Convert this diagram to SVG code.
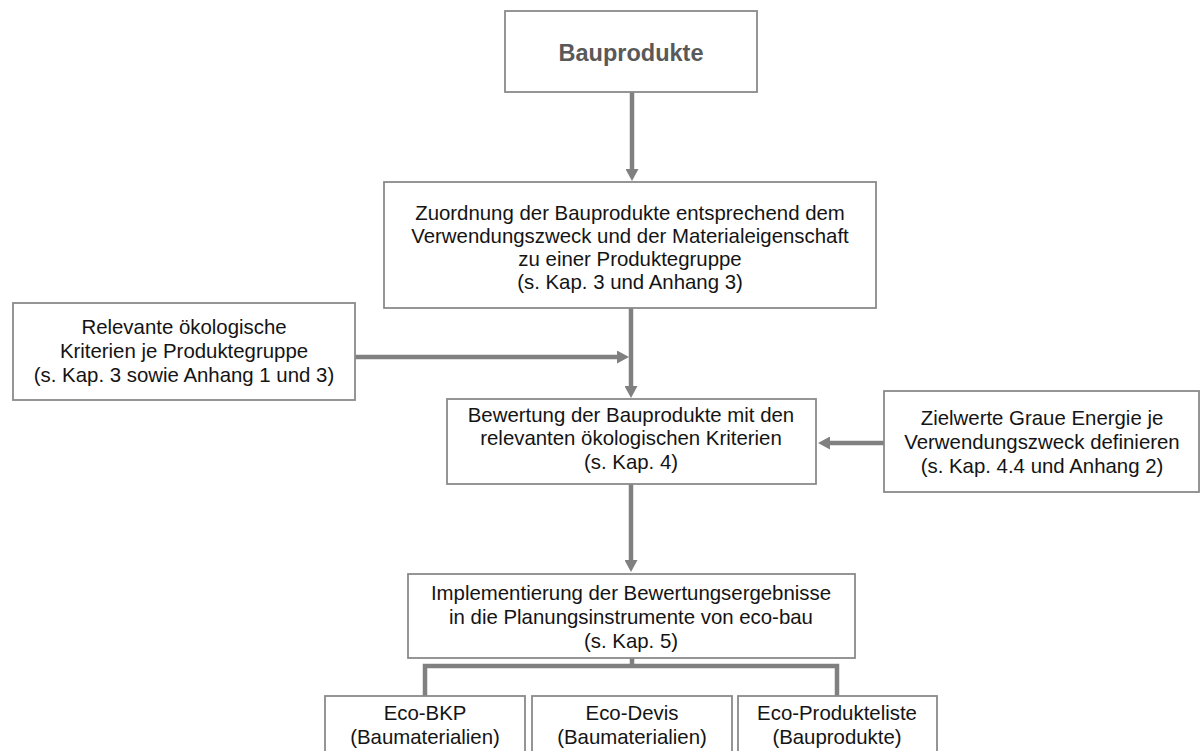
<svg xmlns="http://www.w3.org/2000/svg" width="1203" height="751" viewBox="0 0 1203 751">
<defs>
<style>
.box{fill:#fff;stroke:#8a8a8a;stroke-width:1.8}
.t{font-family:"Liberation Sans",Arial,sans-serif;font-size:20.4px;fill:#141414;text-anchor:middle}
.tb{font-family:"Liberation Sans",Arial,sans-serif;font-size:23.5px;font-weight:bold;fill:#595959;text-anchor:middle}
.c{fill:none;stroke:#808080;stroke-width:4.5}
</style>
<marker id="ah" viewBox="0 0 12 13" markerWidth="12" markerHeight="13" refX="0" refY="6.5" orient="auto" markerUnits="userSpaceOnUse">
<path d="M0,0 L12,6.5 L0,13 Z" fill="#808080"/>
</marker>
</defs>
<rect width="1203" height="751" fill="#fff"/>
<g id="connectors">
<line class="c" x1="632" y1="92" x2="632" y2="169" marker-end="url(#ah)"/>
<line class="c" x1="631" y1="308" x2="631" y2="386" marker-end="url(#ah)"/>
<line class="c" x1="355" y1="357" x2="617" y2="357" marker-end="url(#ah)"/>
<line class="c" x1="884" y1="443" x2="830" y2="443" marker-end="url(#ah)"/>
<line class="c" x1="631" y1="484" x2="631" y2="560" marker-end="url(#ah)"/>
<path class="c" d="M632,658 V666 M425,696 V666 H837 V696"/>
</g>
<g id="n-bauprodukte">
<rect class="box" x="505" y="11" width="252" height="81"/>
<text class="tb" x="631" y="61">Bauprodukte</text>
</g>
<g id="n-zuordnung">
<rect class="box" x="384" y="182" width="492" height="126"/>
<text class="t" x="630" y="220">Zuordnung der Bauprodukte entsprechend dem</text>
<text class="t" x="630" y="243">Verwendungszweck und der Materialeigenschaft</text>
<text class="t" x="630" y="266">zu einer Produktegruppe</text>
<text class="t" x="630" y="289">(s. Kap. 3 und Anhang 3)</text>
</g>
<g id="n-relevante">
<rect class="box" x="13" y="303" width="342" height="97"/>
<text class="t" x="184" y="334">Relevante ökologische</text>
<text class="t" x="184" y="358">Kriterien je Produktegruppe</text>
<text class="t" x="184" y="382">(s. Kap. 3 sowie Anhang 1 und 3)</text>
</g>
<g id="n-bewertung">
<rect class="box" x="447" y="399" width="369" height="85"/>
<text class="t" x="631" y="422">Bewertung der Bauprodukte mit den</text>
<text class="t" x="631" y="445">relevanten ökologischen Kriterien</text>
<text class="t" x="631" y="469">(s. Kap. 4)</text>
</g>
<g id="n-zielwerte">
<rect class="box" x="884" y="391" width="315" height="101"/>
<text class="t" x="1042" y="425">Zielwerte Graue Energie je</text>
<text class="t" x="1042" y="449">Verwendungszweck definieren</text>
<text class="t" x="1042" y="473">(s. Kap. 4.4 und Anhang 2)</text>
</g>
<g id="n-implementierung">
<rect class="box" x="408" y="574" width="447" height="84"/>
<text class="t" x="631" y="600">Implementierung der Bewertungsergebnisse</text>
<text class="t" x="631" y="624">in die Planungsinstrumente von eco-bau</text>
<text class="t" x="631" y="648">(s. Kap. 5)</text>
</g>
<g id="n-ecobkp">
<rect class="box" x="325" y="696" width="200" height="70"/>
<text class="t" x="425" y="720">Eco-BKP</text>
<text class="t" x="425" y="744">(Baumaterialien)</text>
</g>
<g id="n-ecodevis">
<rect class="box" x="532" y="696" width="200" height="70"/>
<text class="t" x="632" y="720">Eco-Devis</text>
<text class="t" x="632" y="744">(Baumaterialien)</text>
</g>
<g id="n-ecoprodukteliste">
<rect class="box" x="738" y="696" width="199" height="70"/>
<text class="t" x="837" y="720">Eco-Produkteliste</text>
<text class="t" x="837" y="744">(Bauprodukte)</text>
</g>
</svg>
